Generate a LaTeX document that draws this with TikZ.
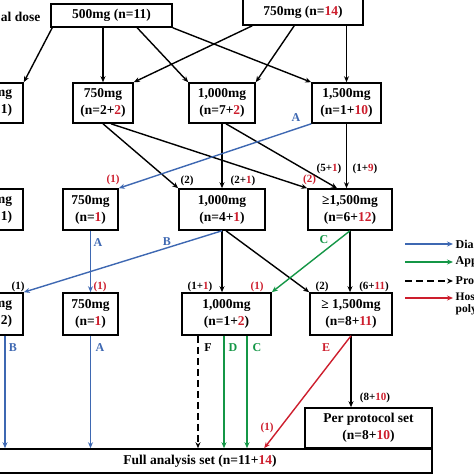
\documentclass[tikz,border=0pt]{standalone}
\usepackage{fontspec}
\setmainfont{Liberation Serif}
\usetikzlibrary{arrows.meta}
\definecolor{mred}{RGB}{205,30,45}
\definecolor{mblue}{RGB}{62,104,178}
\definecolor{mgreen}{RGB}{20,150,70}
\newcommand{\rn}[1]{\textcolor{mred}{#1}}

\begin{document}
\begin{tikzpicture}[x=1pt,y=-1pt,>={Stealth[length=6pt,width=5pt]},line width=1.4pt,
    dose node/.style={rectangle,draw,line width=1.6pt,inner sep=0pt,align=center,font=\fontsize{13.5}{17}\selectfont\bfseries},
    num/.style={inner sep=0pt,font=\fontsize{11}{13}\selectfont\bfseries},
    tag/.style={inner sep=0pt,font=\fontsize{12}{14}\selectfont\bfseries}]
    \clip (0,0) rectangle (474,474);
                \node[dose node,minimum width=121,minimum height=23] (d500) at (111.5,15.5) {500mg (n=11)};
                \node[dose node,minimum width=120,minimum height=26] (d750) at (303,12) {750mg (n=\rn{14})};
                \node[tag,font=\fontsize{13.5}{17}\selectfont\bfseries,anchor=east] (dl) at (41,17) {al dose};

                \node[dose node,minimum width=86,minimum height=40] (a1) at (-20,103) {};
                \node[dose node,draw=none,anchor=east,align=right] (a1t) at (13,103) {mg\\1)};
                \node[dose node,minimum width=60,minimum height=40] (b1) at (103,103) {750mg\\(n=2+\rn{2})};
                \node[dose node,minimum width=66,minimum height=40] (c1) at (222,103) {1,000mg\\(n=7+\rn{2})};
                \node[dose node,minimum width=69,minimum height=40] (e1) at (346.5,103) {1,500mg\\(n=1+\rn{10})};

                \node[dose node,minimum width=86,minimum height=41] (a2) at (-20,209.5) {};
                \node[dose node,draw=none,anchor=east,align=right] (a2t) at (13,209.5) {mg\\1)};
                \node[dose node,minimum width=55,minimum height=41] (b2) at (90.5,209.5) {750mg\\(n=\rn{1})};
                \node[dose node,minimum width=86,minimum height=41] (c2) at (222,209.5) {1,000mg\\(n=4+\rn{1})};
                \node[dose node,minimum width=84,minimum height=41] (e2) at (350,209.5) {≥1,500mg\\(n=6+\rn{12})};

                \node[dose node,minimum width=86,minimum height=42] (a3) at (-20,314) {};
                \node[dose node,draw=none,anchor=east,align=right] (a3t) at (13,314) {mg\\2)};
                \node[dose node,minimum width=55,minimum height=42] (b3) at (90.5,314) {750mg\\(n=\rn{1})};
                \node[dose node,minimum width=89,minimum height=42] (c3) at (226.5,314) {1,000mg\\(n=1+\rn{2})};
                \node[dose node,minimum width=82,minimum height=42] (e3) at (351,314) {≥ 1,500mg\\(n=8+\rn{11})};

                \node[dose node,minimum width=127,minimum height=40] (pps) at (368.5,428) {Per protocol set\\(n=8+\rn{10})};
                \node[dose node,minimum width=464,minimum height=24] (fas) at (200,461) {Full analysis set (n=11+\rn{14})};

                \coordinate (bx) at (5,0);
                \coordinate (ff) at ([xshift=-28.5]c3.south);
                \coordinate (dd) at ([xshift=-2.5]c3.south);
                \coordinate (cc) at ([xshift=20.5]c3.south);
                \coordinate (ee) at ([xshift=297]fas.north west);

                \path[->]
                        ([xshift=2]d500.south west) edge (a1.north east)
                        (d500.south -| b1.north) edge (b1.north)
                        ([xshift=87]d500.south west) edge (c1.north west)
                        (d500.south east) edge (e1.north west)
                        ([xshift=10]d750.south west) edge (b1.north east)
                        ([xshift=52]d750.south west) edge (c1.north east)
                        (d750.south -| e1.north) edge (e1.north)
                        (b1.south) edge (c2.north west)
                        ([xshift=8]b1.south) edge (e2.north west)
                        (c1.south) edge (c2.north)
                        ([xshift=4]c1.south) edge ([xshift=-13]e2.north)
                        (e1.south) edge (e1.south |- e2.north)
                        (c2.south) edge (c2.south |- c3.north)
                        ([xshift=4]c2.south) edge (e3.north west)
                        (e2.south) edge (e2.south |- e3.north)
                        (e3.south) edge (e3.south |- pps.north)
                    ;
                \path[->,mblue]
                        (e1.south west) edge (b2.north east)
                        (b2.south) edge (b2.south |- b3.north)
                        (c2.south) edge (a3.north east)
                        (bx |- a3.south) edge (bx |- fas.north)
                        (b3.south) edge (b3.south |- fas.north)
                    ;
                \path[->,mgreen]
                        (e2.south) edge (c3.north east)
                        (dd) edge (dd |- fas.north)
                        (cc) edge (cc |- fas.north)
                    ;
                \path[->,dash pattern=on 7pt off 4pt] (ff) edge (ff |- fas.north);
                \path[->,mred] (e3.south) edge (ee);

                \node[num] (n1) at (187,181) {(2)};
                \node[num] (n2) at (243,181) {(2+\rn{1})};
                \node[num,mred] (n3) at (309.5,180) {(2)};
                \node[num] (n4) at (329,169) {(5+\rn{1})};
                \node[num] (n5) at (365,169) {(1+\rn{9})};
                \node[num,mred] (n6) at (113,180) {(1)};
                \node[num] (n7) at (18,287) {(1)};
                \node[num,mred] (n8) at (100,287) {(1)};
                \node[num] (n9) at (200,287) {(1+\rn{1})};
                \node[num,mred] (n10) at (257,287) {(1)};
                \node[num] (n11) at (322,287) {(2)};
                \node[num] (n12) at (374,287) {(6+\rn{11})};
                \node[num] (n13) at (375,398) {(8+\rn{10})};
                \node[num,mred] (n14) at (267,428) {(1)};

                \node[tag,mblue] (t1) at (296,118) {A};
                \node[tag,mblue] (t2) at (98,243) {A};
                \node[tag,mblue] (t3) at (167,242) {B};
                \node[tag,mgreen] (t4) at (324,240) {C};
                \node[tag,mblue] (t5) at (13,348) {B};
                \node[tag,mblue] (t6) at (100,348) {A};
                \node[tag] (t7) at (208,348) {F};
                \node[tag,mgreen] (t8) at (233,348) {D};
                \node[tag,mgreen] (t9) at (257,348) {C};
                \node[tag,mred] (t10) at (326,348) {E};

                \coordinate (k1) at (405,244); \coordinate (k2) at (405,262);
                \coordinate (k3) at (405,281); \coordinate (k4) at (405,298);
                \draw[->,mblue] (k1) -- ++(48,0) node[tag,black,anchor=west,xshift=2] (k1t) {Dia};
                \draw[->,mgreen] (k2) -- ++(48,0) node[tag,black,anchor=west,xshift=2] (k2t) {App};
                \draw[->,dash pattern=on 7pt off 4pt] (k3) -- ++(48,0) node[tag,black,anchor=west,xshift=2] (k3t) {Pro};
                \draw[->,mred] (k4) -- ++(48,0) node[tag,black,anchor=north west,xshift=2,yshift=6,align=left,font=\fontsize{11.5}{12.5}\selectfont\bfseries] (k4t) {Hos\\poly};
            \end{tikzpicture}
\end{document}
